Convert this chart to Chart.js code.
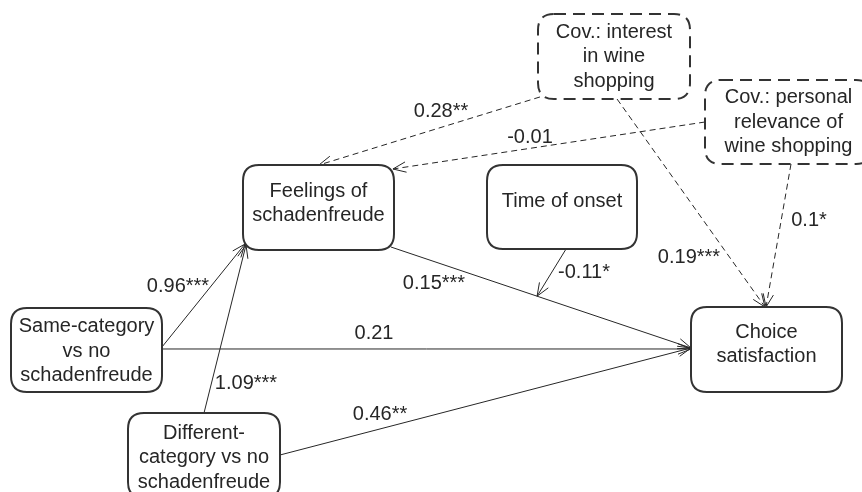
<!DOCTYPE html>
<html>
<head>
    <title>Path model</title>
    <meta charset="utf-8"/>
    <script src="https://cdn.jsdelivr.net/npm/chart.js@4.4.0/dist/chart.umd.min.js"></script>
    <style>
        html, body { margin: 0; padding: 0; background: #fff; }
        #wrap { width: 862px; height: 492px; }
    </style>
</head>
<body>
<div id="wrap"><canvas id="pathChart" width="862" height="492"></canvas></div>
<script>
    // nodes of the model
    const nodeIds = ['interest', 'personal', 'feelings', 'time', 'same', 'different', 'choice'];
    const nodeText = [
        ['Cov.: interest', 'in wine', 'shopping'],
        ['Cov.: personal', 'relevance of', 'wine shopping'],
        ['Feelings of', 'schadenfreude'],
        ['Time of onset'],
        ['Same-category', 'vs no', 'schadenfreude'],
        ['Different-', 'category vs no', 'schadenfreude'],
        ['Choice', 'satisfaction']
    ];
    const nodeIsCovariate = [true, true, false, false, false, false, false];

    // paths: from, to, coefficient
    const edgeFrom = ['interest', 'personal', 'interest', 'personal', 'feelings', 'time', 'same', 'different', 'same', 'different'];
    const edgeTo = ['feelings', 'feelings', 'choice', 'choice', 'choice', 'path:4', 'feelings', 'feelings', 'choice', 'choice'];
    const edgeCoef = ['0.28**', '-0.01', '0.19***', '0.1*', '0.15***', '-0.11*', '0.96***', '1.09***', '0.21', '0.46**'];

    // layout of the diagram (diagram units, y downwards)
    const nodeBox = {
        interest: [538, 14, 690, 99],
        personal: [705, 80, 872, 164],
        feelings: [243, 165, 394, 250],
        time: [487, 165, 637, 249],
        same: [11, 308, 162, 392],
        different: [128, 413, 280, 498],
        choice: [691, 307, 842, 392]
    };
    const nodeTextShift = {interest: 0, personal: 0, feelings: -4, time: -6, same: 1, different: 2, choice: -5};
    // anchor on the box as fractions [fx, fy]; for a path target, a fraction t along it
    const edgeStart = [[0.013, 0.976], [0, 0.5], [0.52, 1], [0.515, 1], [0.98, 0.965], [0.527, 1], [1, 0.464], [0.5, 0], [1, 0.488], [1, 0.494]];
    const edgeEnd = [[0.503, 0], [0.993, 0.047], [0.49, 0], [0.497, 0], [0, 0.482], 0.487, [0.013, 0.93], [0.02, 0.94], [0, 0.494], [0, 0.482]];
    const coefAt = [[441, 111], [530, 137], [689, 257], [809, 220], [434, 283], [584, 272], [178, 286], [246, 383], [374, 333], [380, 414]];

    const ink = '#262626';
    const font = '20px "Liberation Sans", Arial, sans-serif';

    function anchor(id, f) {
        const b = nodeBox[id];
        return {x: b[0] + f[0] * (b[2] - b[0]), y: b[1] + f[1] * (b[3] - b[1])};
    }

    const edgePoints = [];
    for (let i = 0; i < edgeFrom.length; i++) {
        const a = anchor(edgeFrom[i], edgeStart[i]);
        let b;
        if (edgeTo[i].startsWith('path:')) {
            const p = edgePoints[+edgeTo[i].slice(5)];
            const t = edgeEnd[i];
            b = {x: p[0].x + t * (p[1].x - p[0].x), y: p[0].y + t * (p[1].y - p[0].y)};
        } else {
            b = anchor(edgeTo[i], edgeEnd[i]);
        }
        edgePoints.push([a, b]);
    }

    const covEdge = edgeFrom.map(id => nodeIsCovariate[nodeIds.indexOf(id)]);

    const datasets = edgePoints.map((pts, i) => ({
        label: edgeFrom[i] + ' -> ' + edgeTo[i],
        data: pts,
        showLine: true,
        borderColor: ink,
        borderWidth: 1,
        borderDash: covEdge[i] ? [6, 4] : [],
        pointRadius: 0,
        fill: false
    }));

    function roundRect(ctx, x0, y0, x1, y1, r) {
        ctx.beginPath();
        ctx.moveTo(x0 + r, y0);
        ctx.lineTo(x1 - r, y0);
        ctx.quadraticCurveTo(x1, y0, x1, y0 + r);
        ctx.lineTo(x1, y1 - r);
        ctx.quadraticCurveTo(x1, y1, x1 - r, y1);
        ctx.lineTo(x0 + r, y1);
        ctx.quadraticCurveTo(x0, y1, x0, y1 - r);
        ctx.lineTo(x0, y0 + r);
        ctx.quadraticCurveTo(x0, y0, x0 + r, y0);
        ctx.closePath();
    }

    const diagramPlugin = {
        id: 'diagram',
        afterDatasetsDraw(chart) {
            const ctx = chart.ctx;
            const sx = chart.scales.x, sy = chart.scales.y;
            const px = v => sx.getPixelForValue(v);
            const py = v => sy.getPixelForValue(v);
            ctx.save();

            // arrow heads
            ctx.strokeStyle = ink;
            ctx.lineWidth = 1;
            ctx.setLineDash([]);
            edgePoints.forEach(pts => {
                const x0 = px(pts[0].x), y0 = py(pts[0].y);
                const x1 = px(pts[1].x), y1 = py(pts[1].y);
                const ang = Math.atan2(y1 - y0, x1 - x0);
                const len = 14, spread = 0.38;
                ctx.beginPath();
                ctx.moveTo(x1 - len * Math.cos(ang - spread), y1 - len * Math.sin(ang - spread));
                ctx.lineTo(x1, y1);
                ctx.lineTo(x1 - len * Math.cos(ang + spread), y1 - len * Math.sin(ang + spread));
                ctx.stroke();
            });

            // boxes
            nodeIds.forEach((id, i) => {
                const b = nodeBox[id];
                const x0 = px(b[0]), y0 = py(b[1]), x1 = px(b[2]), y1 = py(b[3]);
                roundRect(ctx, x0, y0, x1, y1, 16);
                ctx.fillStyle = '#fff';
                ctx.fill();
                ctx.lineWidth = 2;
                ctx.strokeStyle = '#333';
                ctx.setLineDash(nodeIsCovariate[i] ? [12, 7] : []);
                ctx.stroke();

                ctx.setLineDash([]);
                ctx.fillStyle = ink;
                ctx.font = font;
                ctx.textAlign = 'center';
                ctx.textBaseline = 'middle';
                const lines = nodeText[i];
                const lh = 24.5;
                const cx = (x0 + x1) / 2;
                const cy = (y0 + y1) / 2 + nodeTextShift[id];
                lines.forEach((t, k) => {
                    ctx.fillText(t, cx, cy + (k - (lines.length - 1) / 2) * lh);
                });
            });

            // coefficients
            ctx.fillStyle = ink;
            ctx.font = font;
            ctx.textAlign = 'center';
            ctx.textBaseline = 'middle';
            edgeCoef.forEach((c, i) => {
                ctx.fillText(c, px(coefAt[i][0]), py(coefAt[i][1]));
            });
            ctx.restore();
        }
    };

    const pathChart = new Chart(document.getElementById('pathChart'), {
        type: 'scatter',
        data: {datasets: datasets},
        options: {
            responsive: false,
            animation: false,
            layout: {padding: 0},
            plugins: {legend: {display: false}, tooltip: {enabled: false}},
            scales: {
                x: {type: 'linear', min: 0, max: 862, display: false},
                y: {type: 'linear', min: 0, max: 492, reverse: true, display: false}
            }
        },
        plugins: [diagramPlugin]
    });
</script>
</body>
</html>
